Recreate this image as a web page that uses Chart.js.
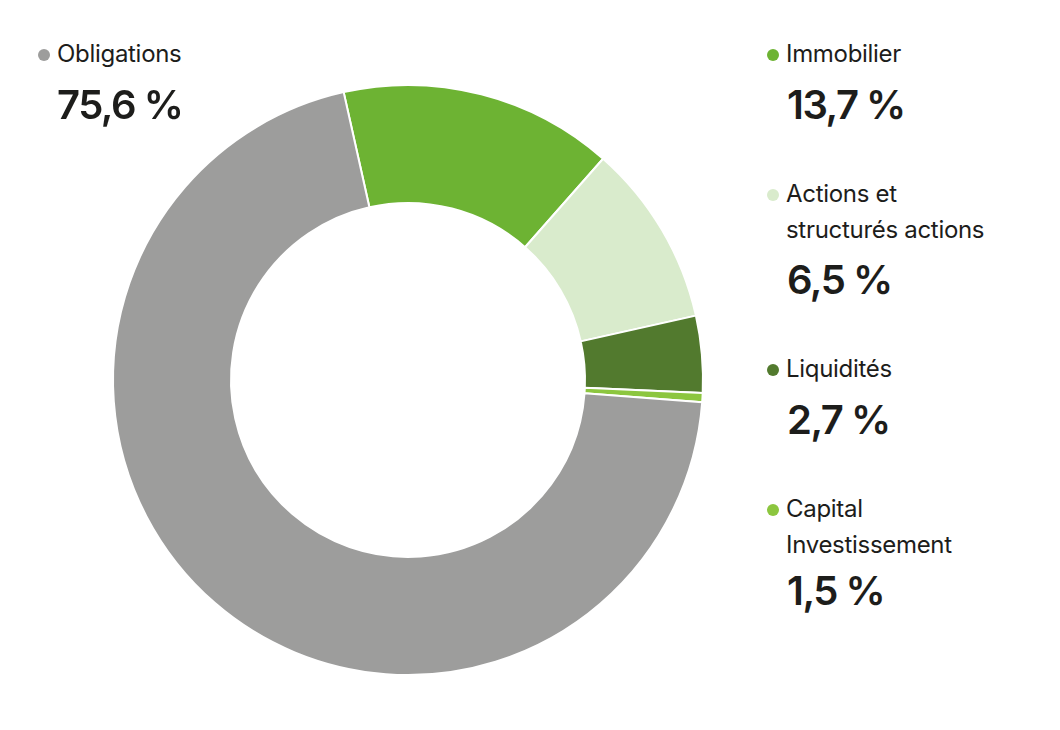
<!DOCTYPE html>
<html><head><meta charset="utf-8">
<script src="https://cdn.jsdelivr.net/npm/chart.js@4"></script>
<style>
body{margin:0;width:1060px;height:730px;background:#fff;font-family:Inter,"Noto Sans",sans-serif;color:#1d1d1b;position:relative;overflow:hidden}
#wrap{position:absolute;left:108px;top:80px;width:600px;height:600px}
.lab{position:absolute;font-size:24px;line-height:36px;letter-spacing:-0.3px}
.lab .dot{position:absolute;left:-19px;top:13px;width:12px;height:12px;border-radius:50%}
.val{position:absolute;font-size:40px;font-weight:600;letter-spacing:-1.5px}
</style></head><body>
<div id="wrap"><canvas id="c" width="600" height="600"></canvas></div>
<div id="legend"></div>
<script>
const categories=["Immobilier","Actions et<br>structurés actions","Liquidités","Capital<br>Investissement","Obligations"];
const valueLabels=["13,7 %","6,5 %","2,7 %","1,5 %","75,6 %"];
const sliceValues=[15.0,10.0,4.2,0.5,70.3];
const colors=["#6db333","#d9ebcc","#527a2e","#8cc63f","#9d9d9c"];
const pos=[[786,36,787,80],[786,176,787,255],[786,351,787,395],[786,491,787,566],[57,36,57,80]];
const lg=document.getElementById('legend');
categories.forEach((c,i)=>{
  const [lx,ly,vx,vy]=pos[i];
  lg.innerHTML+=`<div class="lab" style="left:${lx}px;top:${ly}px"><span class="dot" style="background:${colors[i]}"></span>${c}</div><div class="val" style="left:${vx}px;top:${vy}px">${valueLabels[i]}</div>`;
});
new Chart(document.getElementById('c'),{type:'doughnut',
data:{labels:categories,datasets:[{data:sliceValues,backgroundColor:colors,borderColor:'#fff',borderWidth:2}]},
options:{responsive:false,animation:false,rotation:-12.6,cutout:'60%',layout:{padding:4},
plugins:{legend:{display:false},tooltip:{enabled:false}}}});
</script></body></html>
